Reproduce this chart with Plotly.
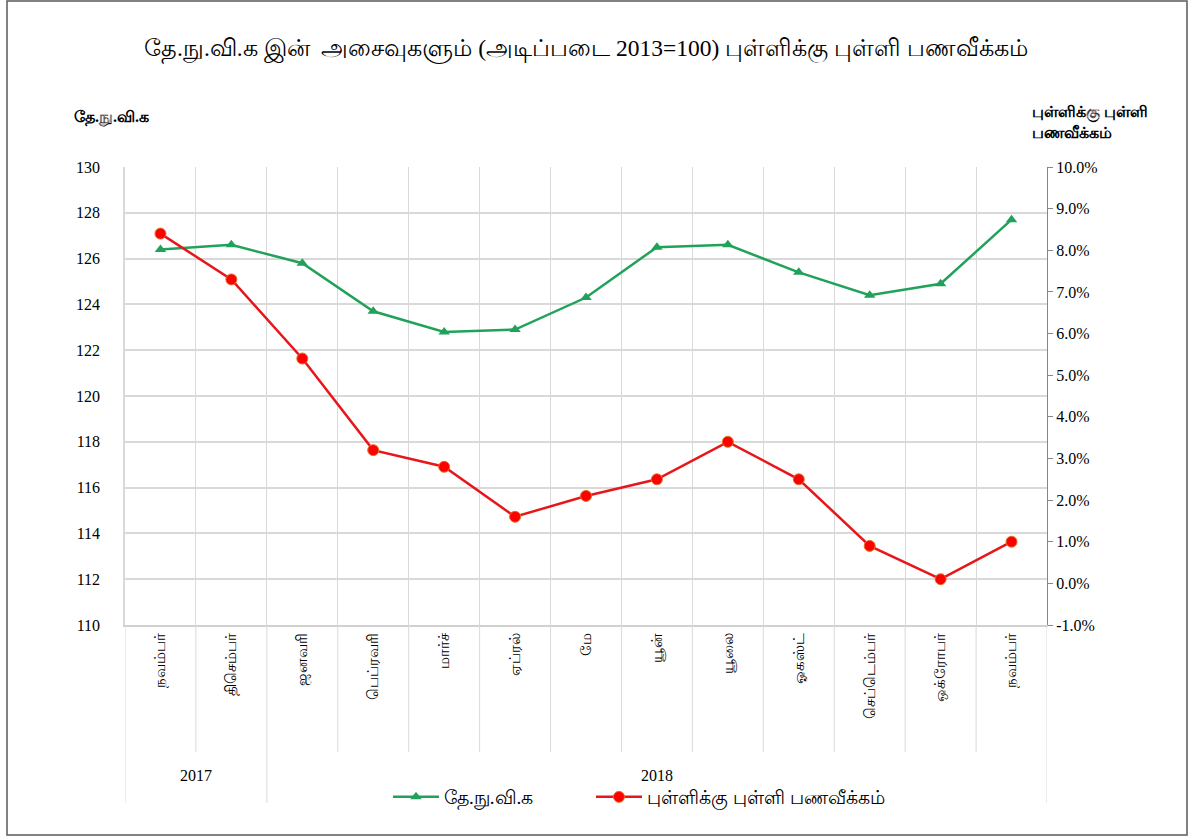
import plotly.graph_objects as go

months = ["நவம்பர்", "திசெம்பர்", "ஜனவரி", "பெப்ரவரி", "மார்ச்", "ஏப்ரல்", "மே",
          "யூன்", "யூலை", "ஓகஸ்ட்", "செப்டெம்பர்", "ஒக்ரோபர்", "நவம்பர்"]
years = ["2017", "2018"]
year_span = [(0, 1), (2, 12)]
ccpi = [126.4, 126.6, 125.8, 123.7, 122.8, 122.9, 124.3, 126.5, 126.6, 125.4, 124.4, 124.9, 127.7]
inflation = [8.4, 7.3, 5.4, 3.2, 2.8, 1.6, 2.1, 2.5, 3.4, 2.5, 0.9, 0.1, 1.0]
left_ticks = [110, 112, 114, 116, 118, 120, 122, 124, 126, 128, 130]
right_ticks = [-1, 0, 1, 2, 3, 4, 5, 6, 7, 8, 9, 10]
name_ccpi = "தே.நு.வி.க"
name_infl = "புள்ளிக்கு புள்ளி பணவீக்கம்"
title_text = "தே.நு.வி.க இன்  அசைவுகளும் (அடிப்படை 2013=100) புள்ளிக்கு புள்ளி பணவீக்கம்"
left_title = "தே.நு.வி.க"
right_title = "புள்ளிக்கு புள்ளி<br>பணவீக்கம்"

W, H = 1193, 838
L, R, T, B = 125, 146, 167, 213
pw, ph = W - L - R, H - T - B

def px_x(p):
    return (p - L) / pw

def px_y(p):
    return (H - B - p) / ph

xs = list(range(len(months)))
serif = "Liberation Serif"

fig = go.Figure()
fig.add_trace(go.Scatter(
    x=xs, y=ccpi, name=name_ccpi, mode="lines+markers",
    line=dict(color="#21a25a", width=2.5),
    marker=dict(symbol="triangle-up", size=10, color="#21a25a"),
    yaxis="y", legend="legend"))
fig.add_trace(go.Scatter(
    x=xs, y=inflation, name=name_infl, mode="lines+markers",
    line=dict(color="#e8161b", width=2.5),
    marker=dict(symbol="circle", size=11, color="#ff0000",
                line=dict(color="#e0702a", width=1)),
    yaxis="y2", legend="legend2"))

n = len(months)
leg_font = dict(family=serif, size=19, color="black")
fig.update_layout(
    width=W, height=H,
    margin=dict(l=L, r=R, t=T, b=B),
    paper_bgcolor="white", plot_bgcolor="white",
    showlegend=True,
    title=dict(text=title_text, x=0.5, xref="paper", xanchor="center",
               y=1 - 48 / H, yanchor="middle",
               font=dict(family=serif, size=23.5, color="black")),
    xaxis=dict(range=[-0.5, n - 0.5], tickmode="array", tickvals=xs, ticktext=months,
               tickangle=-90, showgrid=False, zeroline=False, ticks="",
               showline=True, linecolor="#d0d0d0", linewidth=2,
               tickfont=dict(family=serif, size=15, color="black"),
               minor=dict(tickvals=[i + 0.5 for i in range(-1, n)], showgrid=True,
                          gridcolor="#d9d9d9", gridwidth=1, ticks="")),
    yaxis=dict(range=[110, 130], tickmode="array", tickvals=left_ticks,
               ticktext=[str(v) for v in left_ticks],
               showgrid=True, gridcolor="#d9d9d9",
               gridwidth=1.5, zeroline=False, showline=True, linecolor="#d9d9d9",
               linewidth=1.5, ticks="", ticklabelstandoff=20,
               tickfont=dict(family=serif, size=16, color="black")),
    yaxis2=dict(range=[-1, 10], tickmode="array", tickvals=right_ticks,
                ticktext=[f"{v:.1f}%" for v in right_ticks],
                overlaying="y", side="right",
                showgrid=False, zeroline=False, showline=True, linecolor="#868686",
                linewidth=1, ticks="outside", ticklen=5, tickcolor="#868686",
                tickfont=dict(family=serif, size=16, color="black")),
    legend=dict(orientation="h", x=px_x(388), xanchor="left", y=px_y(797),
                yanchor="middle", font=leg_font, itemwidth=46, bgcolor="rgba(0,0,0,0)"),
    legend2=dict(orientation="h", x=px_x(591), xanchor="left", y=px_y(797),
                 yanchor="middle", font=leg_font, itemwidth=46, bgcolor="rgba(0,0,0,0)"),
)

shapes = []
lab_bottom = px_y(752)
yr_bottom = px_y(803)
for i in range(-1, n):
    b = i + 0.5
    is_year_edge = (b == -0.5) or (b == n - 0.5) or any(b == s - 0.5 for s, e in year_span[1:])
    shapes.append(dict(type="line", xref="x", yref="paper", x0=b, x1=b, y0=0,
                       y1=yr_bottom if is_year_edge else lab_bottom,
                       line=dict(color="#d9d9d9", width=1)))
# outer frame
shapes.append(dict(type="rect", xref="paper", yref="paper",
                   x0=px_x(7), x1=px_x(1187), y0=px_y(835), y1=px_y(1),
                   line=dict(color="#595959", width=1.5)))
fig.update_layout(shapes=shapes)

annotations = []
for yr, (s, e) in zip(years, year_span):
    annotations.append(dict(text=yr, x=(s + e) / 2, xref="x", y=px_y(775), yref="paper",
                            showarrow=False, xanchor="center", yanchor="middle",
                            font=dict(family=serif, size=16, color="black")))
annotations.append(dict(text="<b>" + left_title + "</b>", x=px_x(72), xref="paper",
                        y=px_y(117), yref="paper", showarrow=False, xanchor="left",
                        yanchor="middle", font=dict(family=serif, size=16, color="black")))
annotations.append(dict(text="<b>" + right_title + "</b>", x=px_x(1030), xref="paper",
                        y=px_y(122), yref="paper", showarrow=False, xanchor="left",
                        yanchor="middle", align="left",
                        font=dict(family=serif, size=16, color="black")))
fig.update_layout(annotations=annotations)

fig.write_html("out.html", config={"displayModeBar": False},
               post_script="document.body.style.margin='0';")
